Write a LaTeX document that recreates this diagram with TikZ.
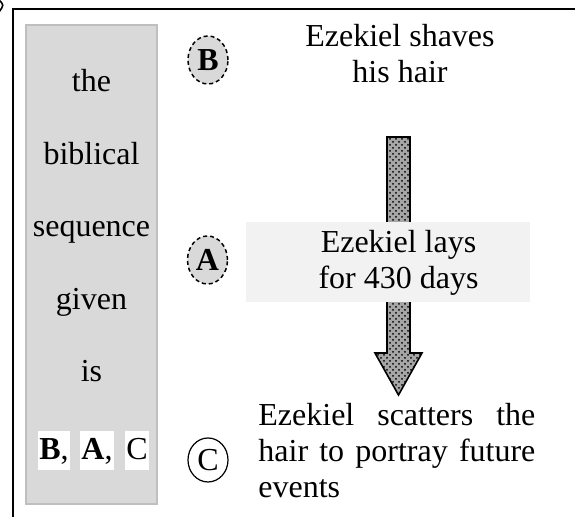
\documentclass[tikz,border=0pt]{standalone}
\usepackage{fontspec}
\setmainfont{Liberation Serif}
\usetikzlibrary{shapes.geometric,patterns}

\definecolor{spalte}{HTML}{D9D9D9}
\definecolor{spalterand}{HTML}{BFBFBF}
\definecolor{kastengrau}{HTML}{F2F2F2}

\tikzset{
    schrift/.style={font=\fontsize{16}{18}\selectfont, inner sep=0pt},
    marke/.style={ellipse, draw, line width=0.75pt, dash pattern=on 2pt off 1.5pt,
        fill=spalte, minimum width=20pt, minimum height=24pt, inner sep=0pt,
        font=\fontsize{16}{18}\selectfont\bfseries},
    markec/.style={ellipse, draw, line width=0.6pt, minimum width=20pt,
        minimum height=22pt, inner sep=0pt, font=\fontsize{16}{18}\selectfont},
    wort/.style={schrift, anchor=base},
    buchst/.style={schrift, anchor=base west, fill=white, inner xsep=0.5pt,
        text height=14.5pt, text depth=5pt}
}

\begin{document}
\begin{tikzpicture}[x=0.5pt, y=-0.5pt]
    \useasboundingbox (0,0) rectangle (575,517);
    \clip (0,0) rectangle (575,517);

    %Rahmen
    \draw[line width=1pt] (13,9) rectangle (600,540);
    \draw[line width=0.8pt] (-1,0) .. controls (4,5) .. (-1,12);

    %Spalte links
    \node[draw=spalterand, line width=0.8pt, fill=spalte, minimum width=65.5pt,
        minimum height=239.5pt, inner sep=0pt] (spalte) at (91.5,264.5) {};
    \node[wort] (w1) at (91.5,92) {the};
    \node[wort] (w2) at (91.5,165) {biblical};
    \node[wort] (w3) at (91.5,237) {sequence};
    \node[wort] (w4) at (91.5,310) {given};
    \node[wort] (w5) at (91.5,382) {is};
    \node[buchst] (lb) at (38,460) {\textbf{B},};
    \node[buchst] (la) at (80,460) {\textbf{A},};
    \node[buchst] (lc) at (125,460) {C};

    %Pfeil
    \fill[gray!70] (387,137) -- (410,137) -- (410,353) -- (422,353) -- (398.5,395)
        -- (375,353) -- (387,353) -- cycle;
    \fill[pattern=crosshatch dots, pattern color=black] (387,137) -- (410,137)
        -- (410,353) -- (422,353) -- (398.5,395) -- (375,353) -- (387,353) -- cycle;
    \draw[line width=0.8pt, line join=miter] (387,137) -- (410,137) -- (410,353)
        -- (422,353) -- (398.5,395) -- (375,353) -- (387,353) -- cycle;

    %Ereignisse
    \node[marke] (mb) at (208,60) {B};
    \node[schrift, align=center] (tb) at (400,54) {Ezekiel shaves\\his hair};

    \node[fill=kastengrau, minimum width=142pt, minimum height=40pt, inner sep=0pt]
        (kasten) at (388,262) {};
    \node[marke] (ma) at (207.5,260) {A};
    \node[schrift, align=center] (ta) at (398.5,263) {Ezekiel lays\\for 430 days};

    \node[markec] (mc) at (208,460) {C};
    \node[schrift, anchor=north west, text width=138.5pt, align=justify,
        execute at begin node={\hyphenpenalty=10000\tolerance=9999}]
        (tc) at (258,403) {Ezekiel scatters the hair to portray future events};
\end{tikzpicture}
\end{document}
